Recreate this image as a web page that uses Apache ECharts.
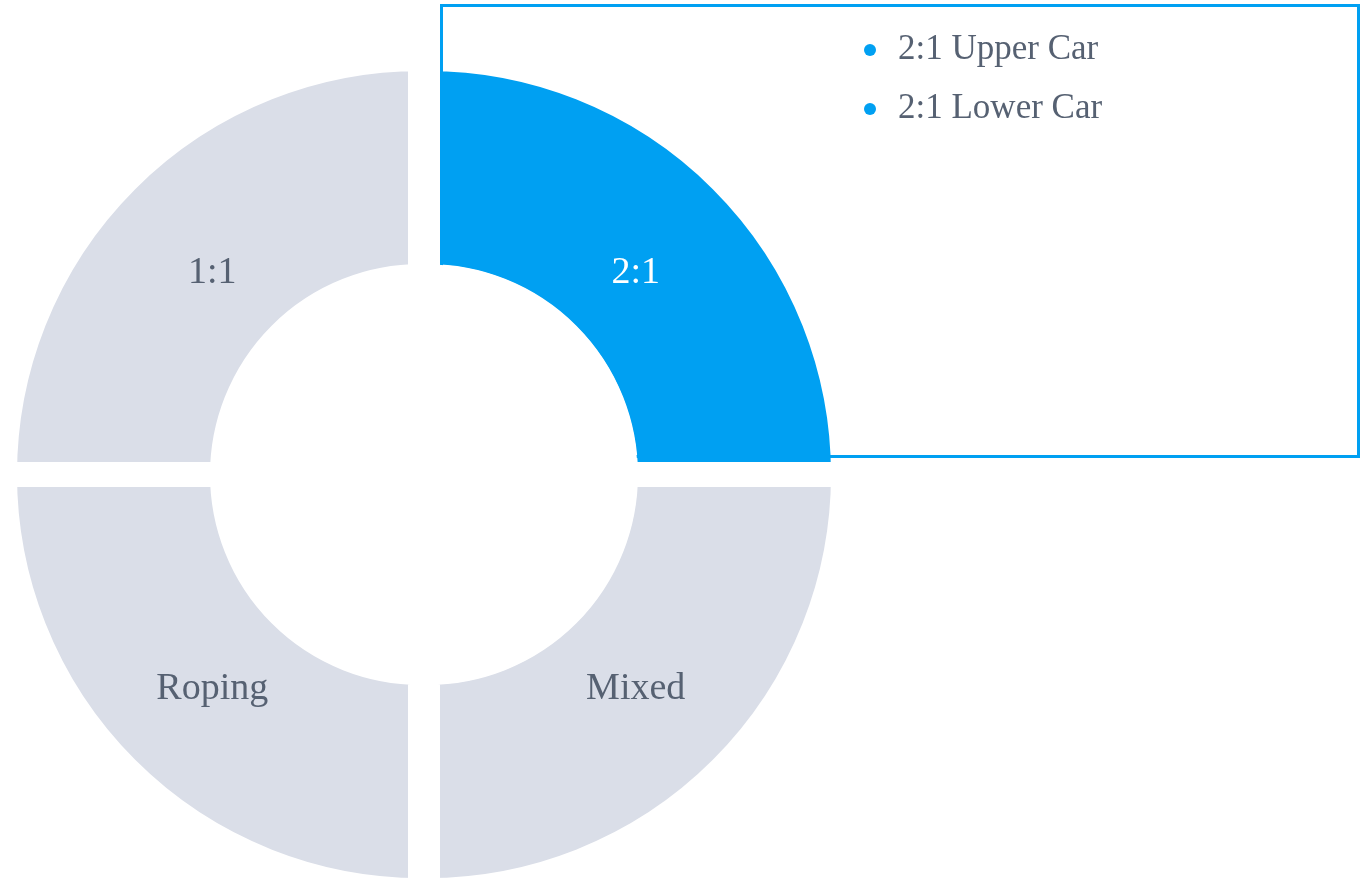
<!DOCTYPE html>
<html>
<head>
<meta charset="utf-8">
<script src="https://cdn.jsdelivr.net/npm/echarts@6/dist/echarts.min.js"></script>
<style>
  html, body { margin: 0; padding: 0; background: #fff; }
  #main { width: 1361px; height: 881px; }
</style>
</head>
<body>
<div id="main"></div>
<script>
// categories of the ring, clockwise from the top
var categories = ['2:1', 'Mixed', 'Roping', '1:1'];
var values = [1, 1, 1, 1];
var selectedName = '2:1';
// sub options listed in the box for the selected segment
var subItems = ['2:1 Upper Car', '2:1 Lower Car'];

var BLUE = '#00A0F2';
var GREY = '#DADEE8';
var TEXT = '#566172';
var FONT = '"Liberation Serif", "Times New Roman", serif';

// pull the labels a bit towards the centre, per quadrant
var labelShift = [[-11, 18], [-11, -5], [11, -5], [11, 18]];

function item(i) {
  var sel = categories[i] === selectedName;
  return {
    name: categories[i],
    value: values[i],
    itemStyle: { color: sel ? BLUE : GREY },
    label: { color: sel ? '#fff' : TEXT, offset: labelShift[i] }
  };
}

function half(center, idx, startAngle) {
  return {
    type: 'pie',
    z: 2,
    center: center,
    radius: [198, 416],
    startAngle: startAngle,
    endAngle: startAngle - 180,
    clockwise: true,
    silent: true,
    avoidLabelOverlap: false,
    itemStyle: { borderColor: '#fff', borderWidth: 25 },
    label: {
      show: true,
      position: 'inside',
      fontFamily: FONT,
      fontSize: 38,
      formatter: '{b}'
    },
    labelLine: { show: false },
    emphasis: { disabled: true },
    data: idx.map(item)
  };
}

var chart = echarts.init(document.getElementById('main'));
chart.setOption({
  animation: false,
  legend: {
    orient: 'vertical',
    left: 859,
    top: 25,
    z: 10,
    icon: 'circle',
    itemWidth: 12,
    itemHeight: 12,
    itemGap: 19,
    selectedMode: false,
    data: subItems,
    textStyle: {
      fontFamily: FONT,
      fontSize: 35,
      lineHeight: 40,
      color: TEXT,
      padding: [0, 0, 0, 17]
    }
  },
  graphic: [{
    // detail box, sits above the ring's white gaps
    type: 'rect',
    z: 3,
    shape: { x: 441.5, y: 5.5, width: 917, height: 451 },
    style: { fill: 'none', stroke: BLUE, lineWidth: 3 }
  }, {
    // keep the ring's hole clear of the box outline
    type: 'circle',
    z: 4,
    shape: { cx: 427.5, cy: 474.5, r: 210 },
    style: { fill: '#fff' }
  }],
  series: [
    half([427.5, 474.5], [0, 1], 90),
    half([420.5, 474.5], [2, 3], -90),
    {
      type: 'pie',
      center: [1200, 700],
      radius: [0, 0],
      silent: true,
      label: { show: false },
      labelLine: { show: false },
      data: subItems.map(function (n) {
        return { name: n, value: 1, itemStyle: { color: BLUE } };
      })
    }
  ]
});
</script>
</body>
</html>
